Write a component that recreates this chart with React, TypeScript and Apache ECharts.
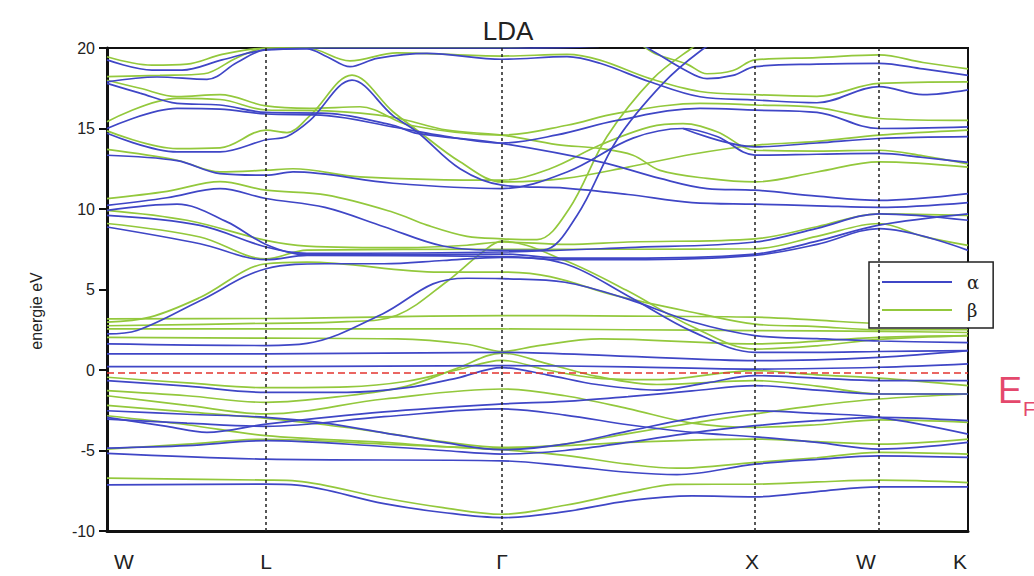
import React, { useEffect, useRef } from 'react';
import * as echarts from 'echarts';

// k-path (distance along the path, arbitrary units) and labels
const K_SYM_LINES = [159, 395, 648, 772];
const K_LABEL_POS = [17, 159, 395, 645, 759, 853];
const K_LABELS = ['W', 'L', 'Γ', 'X', 'W', 'K'];
const E_FERMI = -0.15;

// α bands (blue): [k, energy eV]
const alpha01 = [[0,-7.13],[159,-7.09],[190,-7.15],[277,-8.3],[336,-8.85],[395,-9.17],[458,-8.8],[521,-8.13],[585,-7.82],[648,-7.88],[710,-7.55],[772,-7.26],[861,-7.26]];
const alpha02 = [[0,-5.18],[159,-5.54],[395,-5.64],[458,-5.95],[521,-6.35],[570,-6.5],[648,-5.85],[710,-5.55],[772,-5.33],[861,-5.43]];
const alpha03 = [[0,-4.85],[80,-4.7],[159,-4.39],[277,-4.75],[336,-5.0],[395,-5.22],[458,-5.0],[521,-4.5],[585,-3.9],[648,-3.46],[710,-3.15],[772,-2.94],[861,-3.15]];
const alpha04 = [[0,-2.53],[80,-2.75],[159,-2.94],[218,-3.3],[277,-3.9],[336,-4.5],[395,-4.95],[458,-4.6],[521,-3.8],[585,-3.0],[648,-2.53],[710,-2.7],[772,-2.94],[861,-3.98]];
const alpha05 = [[0,-2.94],[60,-3.5],[100,-3.87],[159,-3.36],[277,-2.6],[395,-2.11],[458,-1.95],[521,-1.65],[585,-1.3],[648,-0.97],[710,-1.25],[772,-1.49],[861,-1.49]];
const alpha06 = [[0,-0.66],[80,-1.0],[159,-1.39],[240,-1.39],[300,-1.1],[350,-0.5],[395,0.15],[440,-0.3],[490,-0.9],[550,-1.25],[600,-0.8],[648,-0.35],[710,-0.5],[772,-0.66],[861,-0.66]];
const alpha07 = [[0,0.21],[159,0.21],[395,0.27],[521,0.2],[648,0.06],[772,0.17],[861,0.38]];
const alpha08 = [[0,-3.05],[80,-3.3],[159,-3.5],[277,-2.9],[395,-2.42],[458,-2.8],[521,-3.4],[585,-3.88],[648,-4.15],[710,-4.5],[772,-4.91],[861,-4.5]];
const alpha09 = [[0,1.0],[159,1.0],[395,1.1],[521,0.85],[648,0.58],[772,0.79],[861,1.2]];
const alpha10 = [[0,1.62],[159,1.52],[200,1.65],[276,3.5],[326,5.35],[360,5.7],[395,5.67],[458,5.45],[521,4.4],[585,3.0],[648,2.14],[710,1.95],[772,1.8],[861,1.7]];
const alpha11 = [[0,2.24],[30,2.45],[93,4.3],[159,6.29],[218,6.6],[277,6.6],[336,6.8],[395,7.0],[458,6.6],[521,4.6],[585,2.4],[648,1.1],[710,1.1],[772,1.15],[861,1.2]];
const alpha12 = [[0,8.88],[93,7.84],[159,6.85],[200,7.12],[395,7.05],[458,6.85],[521,6.85],[648,7.12],[710,7.8],[772,8.78],[861,7.43]];
const alpha13 = [[0,9.6],[93,8.98],[159,7.64],[200,7.25],[395,7.33],[521,7.6],[648,7.95],[710,8.8],[772,9.7],[861,9.3]];
const alpha14 = [[0,10.23],[60,10.7],[113,11.27],[159,10.65],[218,10.1],[277,8.9],[336,7.7],[395,7.43],[436,7.45],[470,9.6],[510,14.3],[556,17.8],[593,19.8],[620,20.8]];
const alpha15 = [[0,9.92],[70,10.3],[120,9.2],[159,7.8],[200,7.15],[395,7.2],[458,6.95],[521,6.95],[648,7.2],[710,8.0],[772,9.0],[861,9.7]];
const alpha16 = [[0,13.34],[70,13.0],[113,12.2],[159,12.1],[186,12.3],[286,11.6],[395,11.27],[460,12.3],[526,14.4],[576,15.0],[610,14.5],[648,13.35],[710,13.4],[772,13.45],[816,13.2],[861,12.9]];
const alpha17 = [[0,14.7],[70,13.55],[113,13.55],[159,14.3],[180,14.5],[203,15.5],[245,18.0],[286,15.8],[310,14.8],[353,12.5],[395,11.48],[458,11.3],[521,10.9],[585,10.4],[648,10.3],[710,10.2],[772,10.1],[861,10.4]];
const alpha18 = [[0,17.8],[33,17.2],[70,16.56],[113,16.46],[159,16.0],[220,15.94],[286,15.2],[310,14.7],[395,14.07],[493,12.93],[553,11.9],[600,11.27],[648,11.17],[710,10.8],[772,10.54],[861,10.96]];
const alpha19 = [[0,15.0],[70,16.25],[113,16.2],[159,15.9],[220,15.8],[286,15.1],[330,14.6],[395,14.1],[450,14.6],[510,15.5],[593,16.25],[648,16.14],[710,16.0],[772,15.0],[861,15.1]];
const alpha20 = [[0,19.26],[45,18.63],[75,18.63],[115,19.26],[159,19.88],[200,19.95],[220,19.46],[243,18.84],[270,19.36],[320,19.67],[395,19.3],[460,19.46],[493,19.05],[543,17.9],[593,16.97],[648,16.77],[710,16.6],[772,17.6],[816,17.1],[861,17.4]];
const alpha21 = [[0,17.9],[50,18.2],[100,18.05],[130,19.1],[159,19.9],[220,20.0],[395,20.0],[490,20.1],[520,20.6],[546,19.8],[576,18.7],[600,18.1],[626,18.3],[648,18.84],[710,19.0],[772,19.05],[816,18.7],[861,18.3]];
const alpha22 = [[576,15.0],[648,13.86],[710,14.1],[772,14.38],[861,14.5]];

// β bands (green)
const beta01 = [[0,-6.72],[159,-6.84],[190,-6.9],[277,-7.95],[336,-8.55],[395,-8.96],[458,-8.4],[521,-7.6],[570,-7.1],[648,-7.09],[710,-6.95],[772,-6.84],[861,-6.99]];
const beta02 = [[0,-4.91],[80,-4.6],[159,-4.3],[277,-4.6],[395,-4.95],[458,-5.3],[521,-5.85],[570,-6.1],[648,-5.74],[710,-5.45],[772,-5.12],[861,-5.22]];
const beta03 = [[0,-2.84],[80,-3.4],[159,-4.08],[277,-4.5],[336,-4.75],[395,-4.9],[458,-4.6],[521,-3.95],[585,-3.3],[648,-2.73],[710,-2.2],[772,-1.8],[861,-1.49]];
const beta04 = [[0,-2.2],[80,-2.6],[159,-3.0],[218,-3.4],[277,-3.9],[336,-4.45],[395,-4.8],[458,-4.7],[521,-4.5],[585,-4.35],[648,-4.29],[710,-4.45],[772,-4.6],[861,-4.29]];
const beta05 = [[0,-1.6],[80,-2.2],[159,-2.73],[277,-1.8],[395,-1.18],[458,-1.6],[521,-2.4],[585,-3.3],[648,-3.56],[710,-3.4],[772,-3.1],[861,-3.25]];
const beta06 = [[0,-1.28],[80,-1.6],[159,-2.01],[240,-1.6],[300,-1.0],[350,0.1],[395,1.05],[440,0.4],[490,-0.4],[550,-0.9],[648,-0.66],[710,-1.0],[772,-1.49],[861,-1.49]];
const beta07 = [[0,-0.45],[80,-0.8],[159,-1.1],[240,-1.05],[300,-0.7],[350,0.0],[395,0.6],[440,0.0],[490,-0.5],[550,-0.6],[648,-0.04],[710,-0.3],[772,-0.5],[861,-0.97]];
const beta08 = [[0,2.03],[159,1.98],[290,1.93],[360,1.6],[395,1.15],[430,1.5],[493,1.93],[648,1.62],[772,2.03],[861,2.14]];
const beta09 = [[0,2.55],[159,2.55],[395,2.55],[521,2.5],[648,2.45],[772,2.4],[861,2.33]];
const beta10 = [[0,3.18],[159,3.2],[395,3.38],[521,3.35],[648,3.28],[710,3.1],[772,2.9],[861,3.0]];
const beta11 = [[0,2.75],[159,2.9],[240,3.0],[290,3.4],[340,5.5],[375,7.3],[395,8.0],[458,6.8],[521,4.9],[585,2.7],[648,1.3],[710,1.5],[772,1.9],[861,2.14]];
const beta12 = [[0,2.97],[43,3.28],[93,4.5],[159,6.6],[200,6.7],[333,6.08],[395,6.08],[443,5.8],[510,4.6],[593,3.49],[648,2.85],[710,2.7],[772,2.5],[861,2.5]];
const beta13 = [[0,9.1],[93,8.26],[159,6.9],[200,7.45],[395,7.5],[521,7.5],[648,7.53],[710,8.3],[772,9.1],[816,8.3],[861,7.74]];
const beta14 = [[0,9.92],[80,9.3],[159,8.05],[200,7.7],[300,7.6],[360,7.75],[395,7.95],[460,7.8],[521,7.95],[648,8.15],[710,8.9],[772,9.7],[861,9.6]];
const beta15 = [[0,10.65],[60,11.1],[113,11.7],[159,11.17],[220,10.86],[286,9.8],[320,9.0],[360,8.3],[395,8.15],[430,8.1],[462,10.0],[500,14.5],[546,18.1],[585,20.0],[610,21]];
const beta16 = [[0,13.7],[70,13.03],[113,12.3],[159,12.41],[186,12.5],[253,12.0],[395,11.79],[443,12.5],[493,13.97],[543,15.1],[576,15.3],[610,14.8],[648,13.65],[710,13.6],[772,13.65],[816,13.3],[861,12.8]];
const beta17 = [[0,14.85],[70,13.75],[113,13.8],[159,14.9],[180,14.75],[203,15.8],[245,18.32],[286,16.04],[310,14.9],[353,12.93],[395,11.68],[458,11.9],[521,12.6],[585,13.4],[648,13.96],[710,14.2],[772,14.59],[861,14.9]];
const beta18 = [[0,18.0],[33,17.5],[70,16.98],[113,17.1],[159,16.4],[203,16.25],[253,16.35],[303,15.2],[395,14.59],[460,15.2],[510,15.94],[593,16.56],[648,16.46],[710,16.3],[772,15.62],[861,15.5]];
const beta19 = [[0,15.42],[70,16.87],[113,16.8],[159,16.15],[220,16.1],[286,15.7],[340,14.9],[395,14.59],[450,14.0],[493,13.76],[526,13.34],[553,12.4],[600,11.9],[648,11.68],[710,12.3],[772,12.93],[861,12.6]];
const beta20 = [[0,19.46],[45,18.94],[80,19.0],[115,19.6],[159,20.0],[200,20.0],[243,19.2],[290,19.7],[395,19.5],[460,19.6],[493,19.25],[543,18.1],[593,17.3],[648,17.1],[710,17.0],[772,17.8],[861,17.9]];
const beta21 = [[0,18.22],[53,18.3],[97,18.4],[130,19.4],[159,20.0],[220,20.05],[395,20.05],[520,20.5],[550,19.6],[580,19.0],[600,18.4],[626,18.6],[648,19.26],[710,19.4],[772,19.57],[816,19.1],[861,18.7]];

const ALPHA_BANDS = [alpha01, alpha02, alpha03, alpha04, alpha05, alpha06, alpha07, alpha08, alpha09, alpha10, alpha11, alpha12, alpha13, alpha14, alpha15, alpha16, alpha17, alpha18, alpha19, alpha20, alpha21, alpha22];
const BETA_BANDS = [beta01, beta02, beta03, beta04, beta05, beta06, beta07, beta08, beta09, beta10, beta11, beta12, beta13, beta14, beta15, beta16, beta17, beta18, beta19, beta20, beta21];

const BLUE = '#3f46c6';
const GREEN = '#93c83c';
const FONT = 'Liberation Sans, Arial, sans-serif';

export default function App() {
  const ref = useRef<HTMLDivElement>(null);
  useEffect(() => {
    if (!ref.current) return;
    const chart = echarts.init(ref.current, undefined, { renderer: 'svg' });
    const band = (name: string, color: string, data: number[][]) => ({
      type: 'line', name, data, symbol: 'none', showSymbol: false, smooth: 0.35,
      lineStyle: { color, width: 1.7 }, itemStyle: { color }, silent: true, z: 3,
    });
    const series: any[] = [];
    BETA_BANDS.forEach((d) => series.push(band('β', GREEN, d)));
    ALPHA_BANDS.forEach((d) => series.push(band('α', BLUE, d)));
    series.push({
      type: 'line', data: [], silent: true, z: 4,
      markLine: {
        silent: true, symbol: ['none', 'none'], label: { show: false },
        data: [
          ...K_SYM_LINES.map((v) => ({ xAxis: v, lineStyle: { color: '#222', width: 1.5, type: [3, 3] } })),
          { yAxis: E_FERMI, lineStyle: { color: '#e3342f', width: 1.5, type: [7, 4] } },
        ],
      },
    });
    chart.setOption({
      animation: false,
      backgroundColor: '#fff',
      title: {
        text: 'LDA', left: 503, top: 13, textAlign: 'center',
        textStyle: { fontFamily: FONT, fontSize: 26, fontWeight: 'normal', color: '#222' },
      },
      legend: {
        data: ['α', 'β'], orient: 'vertical', left: 869, top: 262,
        backgroundColor: '#fff', borderColor: '#222', borderWidth: 1.5,
        padding: [10, 14, 8, 13], itemGap: 8, itemWidth: 70, itemHeight: 2, icon: 'rect',
        selectedMode: false,
        textStyle: { fontFamily: 'DejaVu Serif, serif', fontSize: 18, color: '#222', lineHeight: 20, padding: [0, 0, 0, 10] },
      },
      grid: { left: 107, right: 66, top: 48, bottom: 45, show: true, borderColor: '#111', borderWidth: 2, containLabel: false },
      xAxis: {
        type: 'value', min: 0, max: 861,
        axisLine: { show: true, onZero: false, lineStyle: { color: '#111', width: 3 } },
        axisTick: { show: false },
        splitLine: { show: false },
        axisLabel: {
          customValues: K_LABEL_POS,
          formatter: (v: number) => K_LABELS[K_LABEL_POS.indexOf(v)] ?? '',
          fontFamily: FONT, fontSize: 21, color: '#222', margin: 20,
        },
      },
      yAxis: {
        type: 'value', min: -10, max: 20, interval: 5,
        axisLine: { show: true, onZero: false, lineStyle: { color: '#111', width: 3 } },
        axisTick: { show: true, length: 8, lineStyle: { color: '#111', width: 2 } },
        splitLine: { show: false },
        axisLabel: { fontFamily: FONT, fontSize: 16, color: '#222', margin: 12 },
      },
      graphic: [
        {
          type: 'text', x: 36, y: 311, rotation: Math.PI / 2,
          style: { text: 'energie eV', fontFamily: FONT, fontSize: 16, fill: '#222', textAlign: 'center', textVerticalAlign: 'middle' },
        },
        { type: 'text', left: 998, top: 372, style: { text: 'E', fontFamily: FONT, fontSize: 36, fill: '#e4486c' } },
        { type: 'text', left: 1023, top: 399, style: { text: 'F', fontFamily: FONT, fontSize: 20, fill: '#e4486c' } },
      ],
      series,
    });
    return () => chart.dispose();
  }, []);
  return <div ref={ref} style={{ position: 'fixed', left: 0, top: 0, width: 1034, height: 576, background: '#fff' }} />;
}
